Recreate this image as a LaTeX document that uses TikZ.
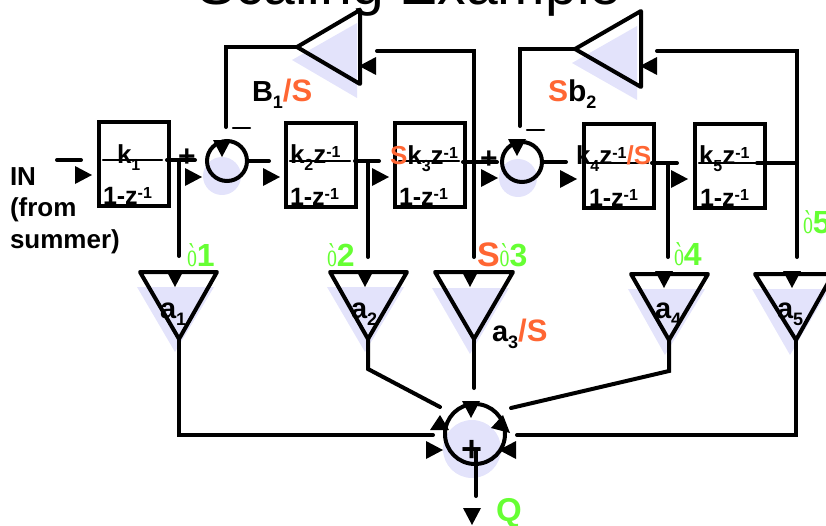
\documentclass[tikz,border=0pt]{standalone}
\usepackage{fontspec}
\setmainfont{Liberation Sans}
\newfontfamily\serifint{Liberation Serif}
\definecolor{shade}{RGB}{227,227,251}
\definecolor{orng}{RGB}{255,102,51}
\definecolor{grn}{RGB}{102,255,51}
\newcommand\FS[1]{\fontsize{#1}{#1}\selectfont\bfseries}
\newcommand\Dn[1]{\raisebox{-7pt}{\FS{18}#1}}
\newcommand\BDn[1]{\raisebox{-7pt}{\FS{16}#1}}
\newcommand\BUp[1]{\raisebox{6pt}{\FS{16}#1}}
\newcommand\Num[1]{{\color{grn}\scalebox{.6}[1]{\fontsize{33}{33}\selectfont\serifint\mdseries ò}\FS{32}#1}}
\newcommand\Osl[1]{{\color{orng}#1}}
\newcommand\RTip[2]{\fill (#1,#2-9) -- (#1+17,#2) -- (#1,#2+9) -- cycle;}
\newcommand\LTip[2]{\fill (#1,#2-9) -- (#1-17,#2) -- (#1,#2+9) -- cycle;}
\newcommand\DTip[2]{\fill (#1-9,#2-17) -- (#1,#2) -- (#1+9,#2-17) -- cycle;}
\tikzset{
  wire/.style={line width=4pt,line cap=round,line join=miter},
  thinbar/.style={line width=2.4pt,line cap=round},
  fbox/.style={draw,line width=3.6pt,minimum width=70pt,minimum height=84pt,inner sep=0pt,anchor=north west},
  sumc/.style={circle,draw,line width=4pt,inner sep=0pt},
  shadec/.style={circle,fill=shade,inner sep=0pt},
  amp/.style={draw,line width=4pt,line join=round},
  ampshade/.style={fill=shade},
  txt/.style={anchor=base west,inner sep=0pt,outer sep=0pt},
}
\begin{document}
\begin{tikzpicture}[x=1pt,y=-1pt]
\useasboundingbox (0,0) rectangle (826,525);
\clip (0,0) rectangle (826,525);
% title
\node[txt] (title) at (197,4) {\fontsize{57}{57}\selectfont Scaling Example};
% shadows
\node[shadec,minimum size=38pt] (sh1) at (222,176) {};
\node[shadec,minimum size=38pt] (sh2) at (518,178) {};
\node[shadec,minimum size=58pt] (sh3) at (472,449) {};
\fill[ampshade] (292,60) -- (357,23) -- (357,98) -- cycle;
\fill[ampshade] (572,63) -- (637,26) -- (637,100) -- cycle;
\fill[ampshade] (137,287) -- (214,287) -- (175,352) -- cycle;
\fill[ampshade] (327,287) -- (404,287) -- (365,352) -- cycle;
\fill[ampshade] (432,288) -- (509,288) -- (470,354) -- cycle;
\fill[ampshade] (628,289) -- (705,289) -- (665,355) -- cycle;
\fill[ampshade] (752,289) -- (829,289) -- (790,355) -- cycle;
% blocks
\node[fbox] (b1) at (97,120) {};
\node[fbox] (b2) at (284,121) {};
\node[fbox] (b3) at (393,121) {};
\node[fbox] (b4) at (582,122) {};
\node[fbox] (b5) at (693,122) {};
% summers
\node[sumc,minimum size=40pt] (s1) at (227,161) {};
\node[sumc,minimum size=40pt] (s2) at (522,162) {};
\node[sumc,minimum size=60pt] (s3) at (475,434) {};
% amplifier corners
\coordinate (t1a) at (297,47); \coordinate (t1b) at (360,10); \coordinate (t1c) at (360,84);
\coordinate (t2a) at (575,49); \coordinate (t2b) at (641,11); \coordinate (t2c) at (641,87);
\coordinate (a1) at (179,339); \coordinate (a2) at (368,339); \coordinate (a3) at (474,339);
\coordinate (a4) at (669,340); \coordinate (a5) at (796,340);
\draw[amp] (t1a) -- (t1b) -- (t1c) -- cycle;
\draw[amp] (t2a) -- (t2b) -- (t2c) -- cycle;
\draw[amp] (140,272) -- (217,272) -- (a1) -- cycle;
\draw[amp] (330,272) -- (407,272) -- (a2) -- cycle;
\draw[amp] (435,272) -- (513,272) -- (a3) -- cycle;
\draw[amp] (631,274) -- (708,274) -- (a4) -- cycle;
\draw[amp] (755,274) -- (833,274) -- (a5) -- cycle;
% connector ends
\coordinate (in0) at (57,160); \coordinate (in1) at (81,160);
\coordinate (o1) at (195,160); \coordinate (j1) at (179,160); \coordinate (d1) at (179,256);
\coordinate (o2) at (379,161); \coordinate (j2) at (368,161); \coordinate (d2) at (368,257);
\coordinate (o3) at (497,162); \coordinate (j3) at (474,162); \coordinate (d3) at (474,257);
\coordinate (o4) at (677,163); \coordinate (j4) at (668,163); \coordinate (d4) at (668,257);
\coordinate (j5) at (797,163); \coordinate (d5) at (797,257);
% wires
\draw[wire] (in0) -- (in1);
\draw[wire] (167,160) -- (o1);
\draw[wire] (j1) -- (d1);
\draw[wire] (s1.east) -- (269,161);
\draw[wire] (355,161) -- (o2);
\draw[wire] (j2) -- (d2);
\draw[wire] (463,162) -- (o3);
\draw[wire] (j3) -- (d3);
\draw[wire] (s2.east) -- (566,162);
\draw[wire] (652,163) -- (o4);
\draw[wire] (j4) -- (d4);
\draw[wire] (757,163) -- (j5);
\draw[wire] (j5) -- (d5);
\draw[wire] (t1a) -- (226,47) -- (226,127);
\draw[wire] (t2a) -- (520,49) -- (520,126);
\draw[wire] (377,51) -- (474,51) -- (j3);
\draw[wire] (657,51) -- (797,51) -- (j5);
\draw[thinbar] (233,128) -- (250,128);
\draw[thinbar] (527,130) -- (544,130);
% fraction bars
\draw[thinbar] (103,160) -- (162,160);
\draw[thinbar] (290,161) -- (350,161);
\draw[thinbar] (399,161) -- (459,161);
\draw[thinbar] (588,163) -- (648,163);
\draw[thinbar] (699,163) -- (757,163);
% outputs to final summer
\draw[wire] (a1) -- (179,435) -- (433,435);
\draw[wire] (a2) -- (368,369) -- (440,407);
\draw[wire] (a3) -- (474,388);
\draw[wire] (a4) -- (669,371) -- (511,408);
\draw[wire] (a5) -- (796,435) -- (517,435);
\draw[wire] (476,450) -- (476,496);
% arrowheads
\RTip{75}{175} \RTip{185}{177} \RTip{263}{177} \RTip{372}{177} \RTip{481}{178} \RTip{560}{179} \RTip{671}{179}
\LTip{376}{66} \LTip{657}{66}
\DTip{222}{157} \DTip{517}{156}
\DTip{175}{287} \DTip{365}{287} \DTip{470}{287} \DTip{664}{288} \DTip{792}{288}
\DTip{471}{418} \DTip{472}{525}
\RTip{426}{450} \LTip{516}{450}
\fill (440,415) -- (430,430) -- (449,430) -- cycle;
\fill (503,415) -- (491,428) -- (510,433) -- cycle;
% plus signs
\node[txt,anchor=center] (p1) at (187,158) {\FS{30}+};
\node[txt,anchor=center] (p2) at (489,160) {\FS{30}+};
\node[txt,anchor=center] (p3) at (472,451) {\FS{36}+};
% block text
\node[txt] (k1) at (117,163) {\FS{26}k\BDn{1}};
\node[txt] (f1) at (103,204) {\FS{25}1-z\BUp{-1}};
\node[txt] (k2) at (290,163) {\FS{26}k\BDn{2}z\BUp{-1}};
\node[txt] (f2) at (290,205) {\FS{25}1-z\BUp{-1}};
\node[txt] (k3) at (390,164) {\FS{26}\Osl{S}k\BDn{3}z\BUp{-1}};
\node[txt] (f3) at (399,205) {\FS{25}1-z\BUp{-1}};
\node[txt] (k4) at (576,164) {\FS{26}k\BDn{4}z\BUp{-1}\Osl{/S}};
\node[txt] (f4) at (589,206) {\FS{25}1-z\BUp{-1}};
\node[txt] (k5) at (699,164) {\FS{26}k\BDn{5}z\BUp{-1}};
\node[txt] (f5) at (700,206) {\FS{25}1-z\BUp{-1}};
% labels
\node[txt] (inl) at (10,185) {\FS{26}IN};
\node[txt] (inm) at (10,216) {\FS{26}(from};
\node[txt] (inb) at (10,248) {\FS{26}summer)};
\node[txt] (B1) at (252,101) {\FS{29}B\Dn{1}{\FS{31}\Osl{/S}}};
\node[txt] (b2l) at (548,101) {\FS{30}\Osl{S}b\Dn{2}};
\node[txt] (i1) at (187,266) {\Num{1}};
\node[txt] (i2) at (327,266) {\Num{2}};
\node[txt] (i3) at (477,266) {\FS{34}\Osl{S}\Num{3}};
\node[txt] (i4) at (674,265) {\Num{4}};
\node[txt] (i5) at (803,233) {\Num{5}};
\node[txt] (la1) at (160,318) {\FS{29}a\Dn{1}};
\node[txt] (la2) at (351,318) {\FS{29}a\Dn{2}};
\node[txt] (la3) at (492,341) {\FS{29}a\Dn{3}{\FS{31}\Osl{/S}}};
\node[txt] (la4) at (655,318) {\FS{29}a\Dn{4}};
\node[txt] (la5) at (777,318) {\FS{29}a\Dn{5}};
\node[txt] (q) at (496,521) {\FS{33}\color{grn}Q};
\end{tikzpicture}
\end{document}
